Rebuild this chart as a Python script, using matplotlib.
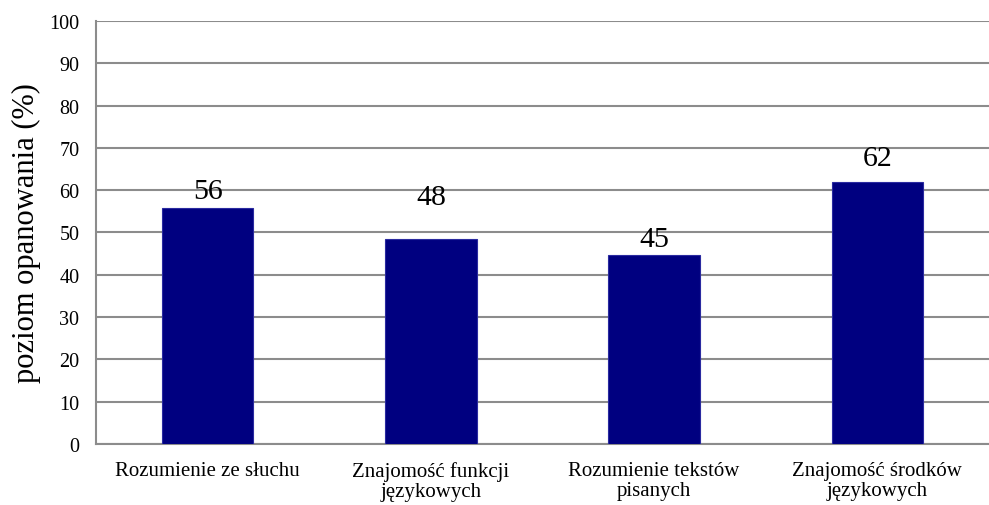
import matplotlib
matplotlib.use("Agg")
import matplotlib.pyplot as plt
import numpy as np

plt.rcParams['font.family'] = ['Liberation Serif', 'DejaVu Serif']

categories = ["Rozumienie ze słuchu", "Znajomość funkcji\njęzykowych",
              "Rozumienie tekstów\npisanych", "Znajomość środków\njęzykowych"]
values = [55.8, 48.5, 44.7, 61.9]
value_labels = ["56", "48", "45", "62"]
yticks = list(range(0, 101, 10))

# label centre offsets above the bar top (the "48" label sits higher in the original)
label_offset = [4.0, 9.8, 3.7, 5.8]

fig = plt.figure(figsize=(9.89, 5.06), dpi=100)
ax = fig.add_axes([0.097, 0.1206, 0.903, 0.8359])

x = np.arange(len(categories))
ax.bar(x, values, width=0.41, color="#000080", edgecolor="#2a2aa0", linewidth=0.8, zorder=3)

for xi, v, lab, off in zip(x, values, value_labels, label_offset):
    ax.text(xi, v + off, lab, ha="center", va="center", fontsize=21.5)

ax.set_xlim(-0.5, len(categories) - 0.5)
ax.set_ylim(0, 100)
ax.set_yticks(yticks)
ax.set_xticks(x)
ax.set_xticklabels(categories, fontsize=15, linespacing=1.12)
ax.tick_params(axis="y", labelsize=14.5, length=0, pad=12)
ax.tick_params(axis="x", length=0, pad=12)
ax.yaxis.grid(True, color="#8c8c8c", linewidth=1.5, zorder=0)
ax.set_axisbelow(True)

for side in ["top", "right"]:
    ax.spines[side].set_visible(False)
for side in ["left", "bottom"]:
    ax.spines[side].set_color("#8c8c8c")
    ax.spines[side].set_linewidth(1.5)

ax.set_ylabel("poziom opanowania (%)", fontsize=22, labelpad=6)

fig.savefig("out.png", dpi=100)
